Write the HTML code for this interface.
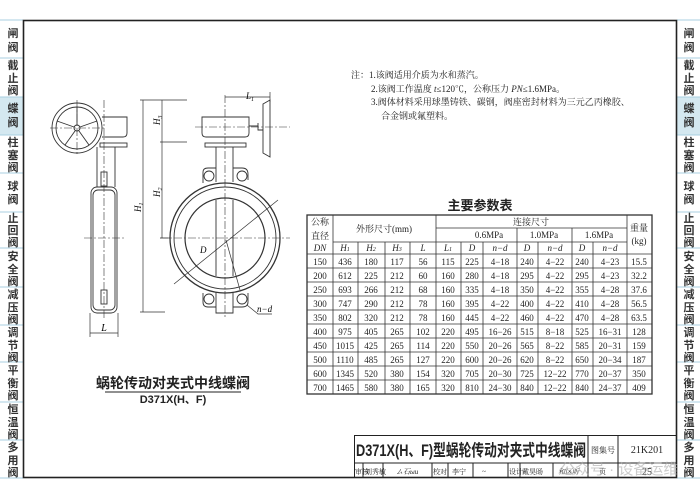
<!DOCTYPE html>
<html><head><meta charset="utf-8"><style>
html,body{margin:0;padding:0;background:#fff;}
svg{display:block;font-family:"Liberation Serif","Noto Serif CJK SC","Noto Sans CJK SC",serif;}
.s{font-family:"Liberation Sans","Noto Sans CJK SC",sans-serif;}
</style></head><body>
<svg width="700" height="496" viewBox="0 0 700 496" xmlns="http://www.w3.org/2000/svg">
<rect width="700" height="496" fill="#fff"/>
<!-- sidebars -->
<g class="s" font-size="11" fill="#333" font-weight="bold" text-anchor="middle">
<rect x="0" y="97" width="23" height="38" fill="#d4e8f0"/>
<rect x="677" y="97" width="23" height="38" fill="#d4e8f0"/>
<g stroke="#a9cfe0" stroke-width="1">
<line x1="0" y1="20" x2="23" y2="20"/><line x1="0" y1="58" x2="23" y2="58"/><line x1="0" y1="97" x2="23" y2="97"/><line x1="0" y1="135" x2="23" y2="135"/><line x1="0" y1="173" x2="23" y2="173"/><line x1="0" y1="212" x2="23" y2="212"/><line x1="0" y1="248" x2="23" y2="248"/><line x1="0" y1="287" x2="23" y2="287"/><line x1="0" y1="325" x2="23" y2="325"/><line x1="0" y1="362" x2="23" y2="362"/><line x1="0" y1="402" x2="23" y2="402"/><line x1="0" y1="440" x2="23" y2="440"/><line x1="0" y1="478" x2="23" y2="478"/>
<line x1="677" y1="20" x2="700" y2="20"/><line x1="677" y1="58" x2="700" y2="58"/><line x1="677" y1="97" x2="700" y2="97"/><line x1="677" y1="135" x2="700" y2="135"/><line x1="677" y1="173" x2="700" y2="173"/><line x1="677" y1="212" x2="700" y2="212"/><line x1="677" y1="248" x2="700" y2="248"/><line x1="677" y1="287" x2="700" y2="287"/><line x1="677" y1="325" x2="700" y2="325"/><line x1="677" y1="362" x2="700" y2="362"/><line x1="677" y1="402" x2="700" y2="402"/><line x1="677" y1="440" x2="700" y2="440"/><line x1="677" y1="478" x2="700" y2="478"/>
</g>
<g id="sb">
<text x="13" y="37">闸</text><text x="13" y="51">阀</text>
<text x="13" y="69">截</text><text x="13" y="82">止</text><text x="13" y="94">阀</text>
<text x="13" y="112">蝶</text><text x="13" y="126">阀</text>
<text x="13" y="146">柱</text><text x="13" y="159">塞</text><text x="13" y="171">阀</text>
<text x="13" y="190">球</text><text x="13" y="203">阀</text>
<text x="13" y="222">止</text><text x="13" y="234">回</text><text x="13" y="246">阀</text>
<text x="13" y="260">安</text><text x="13" y="273">全</text><text x="13" y="285">阀</text>
<text x="13" y="298">减</text><text x="13" y="311">压</text><text x="13" y="323">阀</text>
<text x="13" y="336">调</text><text x="13" y="349">节</text><text x="13" y="361">阀</text>
<text x="13" y="374">平</text><text x="13" y="387">衡</text><text x="13" y="399">阀</text>
<text x="13" y="413">恒</text><text x="13" y="426">温</text><text x="13" y="438">阀</text>
<text x="13" y="451">多</text><text x="13" y="464">用</text><text x="13" y="476">阀</text>
</g>
<use href="#sb" x="676"/>
</g>
<!-- frame -->
<rect x="23.5" y="20.5" width="653" height="457" fill="none" stroke="#222" stroke-width="1.6"/>

<!-- left view -->
<g fill="none" stroke="#333" stroke-width="0.9">
<circle cx="77" cy="128" r="25"/><circle cx="77" cy="128" r="21"/><circle cx="77" cy="128" r="3"/>
<line x1="77" y1="125" x2="77" y2="107"/><line x1="80" y1="127" x2="97" y2="121"/><line x1="79" y1="131" x2="89" y2="145"/><line x1="75" y1="131" x2="65" y2="145"/><line x1="74" y1="127" x2="57" y2="121"/>
<path d="M102 117 H127 V133 Q127 137 123 137 H102"/>
<rect x="100" y="143" width="27" height="4"/>
<path d="M97 147 V187 M115 147 V187"/>
<rect x="91" y="187" width="26" height="126" rx="6"/>
<rect x="93" y="190" width="22" height="120" rx="5"/>
<rect x="101" y="172" width="6" height="14"/><rect x="101" y="290" width="6" height="14"/>
</g>
<g stroke="#333" stroke-width="0.6" stroke-dasharray="8 2 2 2" fill="none">
<line x1="104" y1="100" x2="104" y2="320"/><line x1="50" y1="128" x2="105" y2="128"/><line x1="77" y1="100" x2="77" y2="156"/><line x1="84" y1="238" x2="125" y2="238"/>
</g>
<g stroke="#333" stroke-width="0.7"><line x1="90" y1="313" x2="90" y2="337"/><line x1="118" y1="313" x2="118" y2="337"/><line x1="90" y1="333" x2="118" y2="333"/></g>
<text x="104" y="331" font-size="10" font-style="italic" text-anchor="middle">L</text>

<!-- dims vertical -->
<g stroke="#333" stroke-width="0.7">
<line x1="140" y1="100" x2="187" y2="100"/><line x1="160" y1="142" x2="187" y2="142"/><line x1="140" y1="312" x2="165" y2="312"/><line x1="160" y1="238" x2="170" y2="238"/>
<line x1="143" y1="100" x2="143" y2="312"/><line x1="162" y1="100" x2="162" y2="238"/>
</g>
<g font-size="9" font-style="italic">
<text transform="translate(160 125) rotate(-90)">H<tspan font-size="6" dy="2">3</tspan></text>
<text transform="translate(160 197) rotate(-90)">H<tspan font-size="6" dy="2">2</tspan></text>
<text transform="translate(141 212) rotate(-90)">H<tspan font-size="6" dy="2">1</tspan></text>
</g>

<!-- front view -->
<g fill="none" stroke="#333" stroke-width="0.9">
<path d="M202 117 H249 V133 Q249 137 245 137 H206 Q202 137 202 133 Z"/>
<rect x="205" y="143" width="41" height="4"/>
<path d="M216 147 V182 M233 147 V182"/>
<path d="M203 172 Q203 168 208 168 H216 M233 168 H242 Q248 168 248 174 V180 M203 172 V183"/>
<circle cx="209" cy="176" r="5"/><circle cx="242" cy="176" r="5"/>
<circle cx="225" cy="238" r="55" stroke-width="1.3"/><circle cx="225" cy="238" r="51"/><circle cx="225" cy="238" r="40" stroke-width="1.2"/>
<path d="M216 200 V276 M233 200 V276"/>
<path d="M203 293 V302 Q203 307 208 307 H216 M233 307 H242 Q248 307 248 302 V293"/>
<circle cx="209" cy="299" r="5"/><circle cx="242" cy="299" r="5"/>
<path d="M216 292 V313 H233 V292"/>
<path d="M249 126 H258 M258 123 V130 H263"/>
<path d="M263 104 L270 100 V157 L263 153 Z"/>
</g>
<g stroke="#333" stroke-width="0.6" stroke-dasharray="8 2 2 2" fill="none">
<line x1="225" y1="95" x2="225" y2="318"/><line x1="160" y1="238" x2="290" y2="238"/><line x1="195" y1="127" x2="290" y2="127"/>
</g>
<g stroke="#333" stroke-width="0.7" fill="none">
<line x1="174" y1="284" x2="278" y2="200"/><line x1="226" y1="240" x2="240" y2="290"/>
<line x1="225" y1="97" x2="270" y2="97"/><line x1="270" y1="92" x2="270" y2="102"/>
<path d="M247 305 L258 314 H272"/>
</g>
<text x="200" y="253" font-size="9" font-style="italic">D</text>
<text x="246" y="99" font-size="9" font-style="italic">L<tspan font-size="6" dy="2">1</tspan></text>
<text x="257" y="312" font-size="9" font-style="italic">n−d</text>

<!-- caption -->
<text x="173" y="388" class="s" font-size="14" font-weight="bold" text-anchor="middle" fill="#222">蜗轮传动对夹式中线蝶阀</text>
<line x1="105" y1="392" x2="241" y2="392" stroke="#222" stroke-width="1"/>
<text x="173" y="403" class="s" font-size="11" font-weight="bold" text-anchor="middle" fill="#222">D371X(H、F)</text>

<!-- notes -->
<g font-size="9" fill="#222">
<text x="351" y="78">注：1.该阀适用介质为水和蒸汽。</text>
<text x="371" y="92">2.该阀工作温度 <tspan font-style="italic">t</tspan>≤120℃，公称压力 <tspan font-style="italic">PN</tspan>≤1.6MPa。</text>
<text x="371" y="105">3.阀体材料采用球墨铸铁、碳钢，阀座密封材料为三元乙丙橡胶、</text>
<text x="381" y="119">合金钢或氟塑料。</text>
</g>

<!-- table -->
<text x="480" y="210" class="s" font-size="13" font-weight="bold" text-anchor="middle" fill="#222">主要参数表</text>
<g stroke="#333" stroke-width="0.8" fill="none">
<rect x="307" y="215" width="345" height="179" stroke-width="1.3"/>
<line x1="436" y1="228" x2="627" y2="228"/>
<line x1="333" y1="242" x2="627" y2="242"/>
<line x1="307" y1="254" x2="652" y2="254"/>
<line x1="307" y1="268" x2="652" y2="268"/><line x1="307" y1="282" x2="652" y2="282"/><line x1="307" y1="296" x2="652" y2="296"/><line x1="307" y1="310" x2="652" y2="310"/><line x1="307" y1="324" x2="652" y2="324"/><line x1="307" y1="338" x2="652" y2="338"/><line x1="307" y1="352" x2="652" y2="352"/><line x1="307" y1="366" x2="652" y2="366"/><line x1="307" y1="380" x2="652" y2="380"/>
<line x1="333" y1="215" x2="333" y2="394"/><line x1="436" y1="215" x2="436" y2="394"/><line x1="627" y1="215" x2="627" y2="394"/>
<line x1="517" y1="228" x2="517" y2="394"/><line x1="572" y1="228" x2="572" y2="394"/>
<line x1="358" y1="242" x2="358" y2="394"/><line x1="385" y1="242" x2="385" y2="394"/><line x1="410" y1="242" x2="410" y2="394"/>
<line x1="461" y1="242" x2="461" y2="394"/><line x1="483" y1="242" x2="483" y2="394"/><line x1="538" y1="242" x2="538" y2="394"/><line x1="593" y1="242" x2="593" y2="394"/>
</g>
<g font-size="9" fill="#222" text-anchor="middle">
<text x="320" y="225">公称</text><text x="320" y="239">直径</text><text x="320" y="251" font-style="italic">DN</text>
<text x="384" y="232">外形尺寸(mm)</text>
<text x="531" y="225">连接尺寸</text>
<text x="489" y="238">0.6MPa</text><text x="544" y="238">1.0MPa</text><text x="599" y="238">1.6MPa</text>
<text x="639" y="231">重量</text><text x="639" y="244">(kg)</text>
<g font-style="italic"><text x="345" y="251">H<tspan font-size="6">1</tspan></text><text x="371" y="251">H<tspan font-size="6">2</tspan></text><text x="397" y="251">H<tspan font-size="6">3</tspan></text><text x="423" y="251">L</text><text x="448" y="251">L<tspan font-size="6">1</tspan></text>
<text x="472" y="251">D</text><text x="500" y="251">n−d</text><text x="527" y="251">D</text><text x="555" y="251">n−d</text><text x="582" y="251">D</text><text x="610" y="251">n−d</text></g>
</g>
<g font-size="9" fill="#222" text-anchor="middle" font-family="Liberation Serif,serif">
<g id="r1"><text x="320" y="265">150</text><text x="345" y="265">436</text><text x="371" y="265">180</text><text x="397" y="265">117</text><text x="423" y="265">56</text><text x="448" y="265">115</text><text x="472" y="265">225</text><text x="500" y="265">4−18</text><text x="527" y="265">240</text><text x="555" y="265">4−22</text><text x="582" y="265">240</text><text x="610" y="265">4−23</text><text x="639" y="265">15.5</text></g>
<g transform="translate(0 14)"><text x="320" y="265">200</text><text x="345" y="265">612</text><text x="371" y="265">225</text><text x="397" y="265">212</text><text x="423" y="265">60</text><text x="448" y="265">160</text><text x="472" y="265">280</text><text x="500" y="265">4−18</text><text x="527" y="265">295</text><text x="555" y="265">4−22</text><text x="582" y="265">295</text><text x="610" y="265">4−23</text><text x="639" y="265">32.2</text></g>
<g transform="translate(0 28)"><text x="320" y="265">250</text><text x="345" y="265">693</text><text x="371" y="265">266</text><text x="397" y="265">212</text><text x="423" y="265">68</text><text x="448" y="265">160</text><text x="472" y="265">335</text><text x="500" y="265">4−18</text><text x="527" y="265">350</text><text x="555" y="265">4−22</text><text x="582" y="265">355</text><text x="610" y="265">4−28</text><text x="639" y="265">37.6</text></g>
<g transform="translate(0 42)"><text x="320" y="265">300</text><text x="345" y="265">747</text><text x="371" y="265">290</text><text x="397" y="265">212</text><text x="423" y="265">78</text><text x="448" y="265">160</text><text x="472" y="265">395</text><text x="500" y="265">4−22</text><text x="527" y="265">400</text><text x="555" y="265">4−22</text><text x="582" y="265">410</text><text x="610" y="265">4−28</text><text x="639" y="265">56.5</text></g>
<g transform="translate(0 56)"><text x="320" y="265">350</text><text x="345" y="265">802</text><text x="371" y="265">320</text><text x="397" y="265">212</text><text x="423" y="265">78</text><text x="448" y="265">160</text><text x="472" y="265">445</text><text x="500" y="265">4−22</text><text x="527" y="265">460</text><text x="555" y="265">4−22</text><text x="582" y="265">470</text><text x="610" y="265">4−28</text><text x="639" y="265">63.5</text></g>
<g transform="translate(0 70)"><text x="320" y="265">400</text><text x="345" y="265">975</text><text x="371" y="265">405</text><text x="397" y="265">265</text><text x="423" y="265">102</text><text x="448" y="265">220</text><text x="472" y="265">495</text><text x="500" y="265">16−26</text><text x="527" y="265">515</text><text x="555" y="265">8−18</text><text x="582" y="265">525</text><text x="610" y="265">16−31</text><text x="639" y="265">128</text></g>
<g transform="translate(0 84)"><text x="320" y="265">450</text><text x="345" y="265">1015</text><text x="371" y="265">425</text><text x="397" y="265">265</text><text x="423" y="265">114</text><text x="448" y="265">220</text><text x="472" y="265">550</text><text x="500" y="265">20−26</text><text x="527" y="265">565</text><text x="555" y="265">8−22</text><text x="582" y="265">585</text><text x="610" y="265">20−31</text><text x="639" y="265">159</text></g>
<g transform="translate(0 98)"><text x="320" y="265">500</text><text x="345" y="265">1110</text><text x="371" y="265">485</text><text x="397" y="265">265</text><text x="423" y="265">127</text><text x="448" y="265">220</text><text x="472" y="265">600</text><text x="500" y="265">20−26</text><text x="527" y="265">620</text><text x="555" y="265">8−22</text><text x="582" y="265">650</text><text x="610" y="265">20−34</text><text x="639" y="265">187</text></g>
<g transform="translate(0 112)"><text x="320" y="265">600</text><text x="345" y="265">1345</text><text x="371" y="265">520</text><text x="397" y="265">380</text><text x="423" y="265">154</text><text x="448" y="265">320</text><text x="472" y="265">705</text><text x="500" y="265">20−30</text><text x="527" y="265">725</text><text x="555" y="265">12−22</text><text x="582" y="265">770</text><text x="610" y="265">20−37</text><text x="639" y="265">350</text></g>
<g transform="translate(0 126)"><text x="320" y="265">700</text><text x="345" y="265">1465</text><text x="371" y="265">580</text><text x="397" y="265">380</text><text x="423" y="265">165</text><text x="448" y="265">320</text><text x="472" y="265">810</text><text x="500" y="265">24−30</text><text x="527" y="265">840</text><text x="555" y="265">12−22</text><text x="582" y="265">840</text><text x="610" y="265">24−37</text><text x="639" y="265">409</text></g>
</g>

<!-- title block -->
<g stroke="#222" stroke-width="1" fill="none">
<path d="M354.5 477 V435.5 H677"/>
<line x1="354" y1="463" x2="677" y2="463"/>
<line x1="588" y1="435" x2="588" y2="477"/><line x1="618" y1="435" x2="618" y2="477"/>
<line x1="363" y1="463" x2="363" y2="477"/><line x1="383" y1="463" x2="383" y2="477"/><line x1="432" y1="463" x2="432" y2="477"/><line x1="448" y1="463" x2="448" y2="477"/><line x1="473" y1="463" x2="473" y2="477"/><line x1="508" y1="463" x2="508" y2="477"/><line x1="520" y1="463" x2="520" y2="477"/><line x1="553" y1="463" x2="553" y2="477"/>
</g>
<text x="356" y="456" class="s" font-size="16.5" font-weight="bold" fill="#222" textLength="230" lengthAdjust="spacingAndGlyphs">D371X(H、F)型蜗轮传动对夹式中线蝶阀</text>
<text x="603" y="453" font-size="8" fill="#222" text-anchor="middle">图集号</text>
<text x="647" y="453" font-size="10" fill="#222" text-anchor="middle">21K201</text>
<g font-size="7" fill="#222">
<text x="355" y="474">审核</text><text x="365" y="474">刘秀敏</text><text x="396" y="474" font-style="italic">ム石ыu</text><text x="433" y="474">校对</text><text x="452" y="474">李宁</text><text x="482" y="474" font-style="italic">~</text><text x="509" y="474">设计</text><text x="522" y="474">戴昊旸</text><text x="558" y="474" font-style="italic">和区昕</text><text x="599" y="474">页</text>
</g>
<text x="647" y="475" font-size="10" fill="#222" text-anchor="middle">25</text>
<text x="560" y="474" class="s" font-size="15" fill="#aaa" opacity="0.6">公众号 · 设备运维</text>
</svg>
</body></html>
